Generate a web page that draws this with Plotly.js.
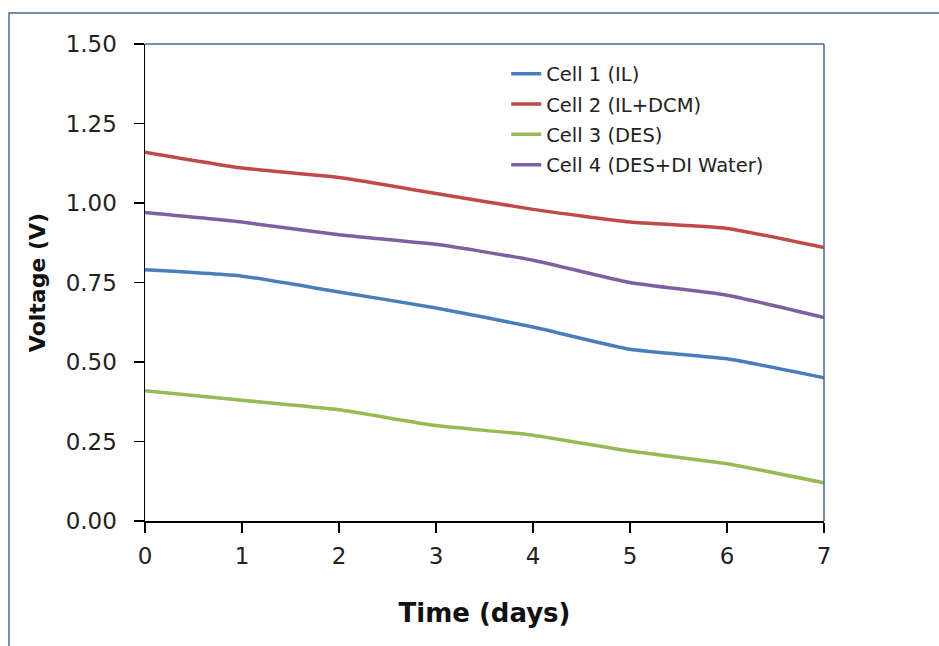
<!DOCTYPE html>
<html>
<head>
<meta charset="utf-8">
<script src="https://cdn.plot.ly/plotly-3.0.1.min.js"></script>
<style>html,body{margin:0;padding:0;background:#fff;}#chart{width:939px;height:646px;}</style>
</head>
<body>
<div id="chart"></div>
<script>
const days = [0, 1, 2, 3, 4, 5, 6, 7];
const seriesNames = ["Cell 1 (IL)", "Cell 2 (IL+DCM)", "Cell 3 (DES)", "Cell 4 (DES+DI Water)"];
const cell1 = [0.79, 0.77, 0.72, 0.67, 0.61, 0.54, 0.51, 0.45];
const cell2 = [1.16, 1.11, 1.08, 1.03, 0.98, 0.94, 0.92, 0.86];
const cell3 = [0.41, 0.38, 0.35, 0.30, 0.27, 0.22, 0.18, 0.12];
const cell4 = [0.97, 0.94, 0.90, 0.87, 0.82, 0.75, 0.71, 0.64];
const yTicks = [0, 0.25, 0.5, 0.75, 1.0, 1.25, 1.5];
const yTickText = ["0.00", "0.25", "0.50", "0.75", "1.00", "1.25", "1.50"];
const xTicks = [0, 1, 2, 3, 4, 5, 6, 7];

const colors = ["#4A7EBB", "#BE4B48", "#98B954", "#7D60A0"];
const allSeries = [cell1, cell2, cell3, cell4];
const font = "'DejaVu Sans', sans-serif";

const traces = allSeries.map((s, i) => ({
  x: days, y: s, name: seriesNames[i], type: "scatter", mode: "lines",
  line: {color: colors[i], width: 3.5, shape: "spline", smoothing: 0.5},
  legendgroup: "g" + i
}));

const frameColor = "#4A6790";
const layout = {
  width: 939, height: 646,
  margin: {l: 145, r: 115, t: 44, b: 125},
  paper_bgcolor: "#fff", plot_bgcolor: "#fff",
  font: {family: font, color: "#222"},
  showlegend: true,
  legend: {
    x: 0.532, y: 0.978, xanchor: "left", yanchor: "top",
    font: {family: font, size: 19.5, color: "#222"},
    bgcolor: "rgba(0,0,0,0)", traceorder: "grouped", tracegroupgap: 2
  },
  xaxis: {
    range: [0, 7], tickvals: xTicks, ticktext: xTicks.map(String),
    showgrid: false, zeroline: false, showline: true, linecolor: "#000", linewidth: 1.5,
    ticks: "outside", ticklen: 10, tickwidth: 1.5, tickcolor: "#000",
    ticklabelstandoff: 4,
    tickfont: {family: font, size: 23, color: "#222"},
    title: {text: "<b>Time (days)</b>", font: {family: font, size: 26, color: "#111"}, standoff: 35}
  },
  yaxis: {
    range: [0, 1.5], tickvals: yTicks, ticktext: yTickText,
    showgrid: false, zeroline: false, showline: true, linecolor: "#000", linewidth: 1.5,
    ticks: "outside", ticklen: 10, tickwidth: 1.5, tickcolor: "#000",
    ticklabelstandoff: 12,
    tickfont: {family: font, size: 23, color: "#222"},
    title: {text: "<b>Voltage (V)</b>", font: {family: font, size: 22, color: "#111"}, standoff: 14}
  },
  shapes: [
    {type: "line", xref: "paper", yref: "paper", x0: 0, x1: 1, y0: 1, y1: 1, line: {color: frameColor, width: 1.5}},
    {type: "line", xref: "paper", yref: "paper", x0: 1, x1: 1, y0: 0, y1: 1, line: {color: frameColor, width: 1.5}},
    {type: "rect", xref: "paper", yref: "paper", x0: -0.2003, x1: 1.18, y0: -0.28, y1: 1.065, line: {color: frameColor, width: 1.5}, layer: "below"}
  ]
};

Plotly.newPlot("chart", traces, layout, {displayModeBar: false, staticPlot: true});
</script>
</body>
</html>
